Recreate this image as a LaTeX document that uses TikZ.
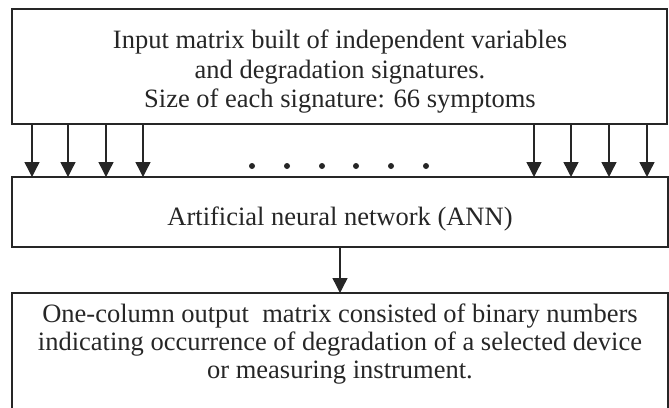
\documentclass[tikz,border=0pt]{standalone}
\usepackage{fontspec}
\setmainfont{Liberation Serif}
\usepackage{tikz}
\usetikzlibrary{arrows.meta}
\newcommand*\boxline{1.4pt}
\newcommand*\tipsize{15pt}
\tikzset{
    blockbox/.style  = {draw=black!85, line width=\boxline, rectangle,
                    inner sep=0pt, outer sep=0pt},
    blocktext/.style = {inner sep=0pt, align=center, text=black!85,
                    font=\fontsize{26.5}{29}\selectfont},
    flowarrow/.style = {draw=black!85, line width=\boxline,
                    -{Triangle[width=\tipsize,length=\tipsize]}},
    gapdot/.style    = {fill=black!85},
  }
\begin{document}
\begin{tikzpicture}[x=1pt,y=-1pt]
    \useasboundingbox (0,0) rectangle (669,407);
    \clip (0,0) rectangle (669,407);

    % Input matrix on top
    \node[blockbox, minimum width=655pt, minimum height=115pt] (input) at (339.5,66.5) {};
    \node[blocktext, anchor=north, font=\fontsize{26.5}{29.5}\selectfont] (intext) at (340,30)
        {Input matrix built of independent variables\\
         and degradation signatures.\\
         Size of each signature: 66 symptoms};

    % The network in the middle
    \node[blockbox, minimum width=656pt, minimum height=70pt] (ann) at (340,212) {};
    \node[blocktext, anchor=base] (anntext) at (340,225)
        {Artificial neural network (ANN)};

    % Output matrix, cut by the lower edge
    \node[blockbox, minimum width=656pt, minimum height=130pt,
          anchor=north] (output) at (340,293) {};
    \node[blocktext, anchor=north, font=\fontsize{26.5}{28}\selectfont] (outtext) at (340,304)
        {One-column output\ \ matrix consisted of binary numbers\\
         indicating occurrence of degradation of a selected device\\
         or measuring instrument.};

    % Inputs of the network
    \foreach \x in {32,68,106,143,534,571,609,647} {
        \draw[flowarrow] (input.south -| \x,0) -- (ann.north -| \x,0);
    }

    % Dots for the inputs left out
    \foreach \x in {252,287,322,356,391,426} {
        \fill[gapdot] (\x,166) circle (3pt);
    }

    % Network to output
    \draw[flowarrow] (ann.south -| 340,0) -- (output.north -| 340,0);
\end{tikzpicture}
\end{document}
